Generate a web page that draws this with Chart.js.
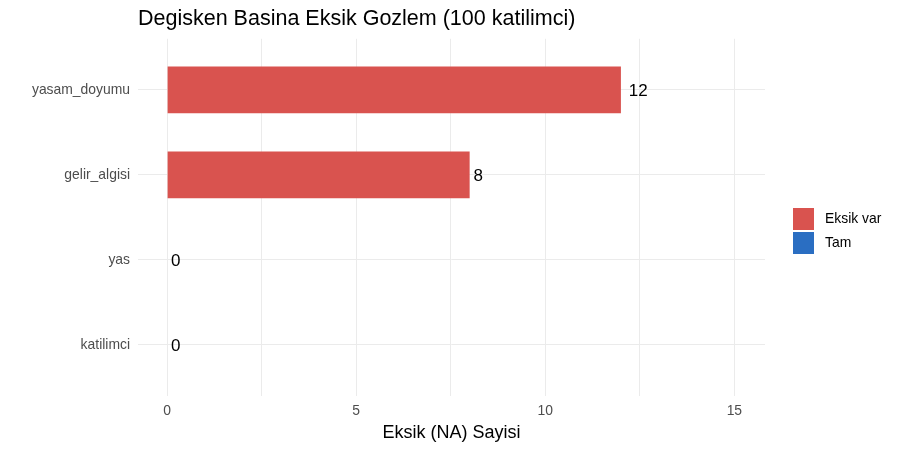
<!DOCTYPE html>
<html>
<head>
<meta charset="utf-8">
<script src="https://cdn.jsdelivr.net/npm/chart.js@4.4.1/dist/chart.umd.min.js"></script>
<style>
html, body { margin: 0; padding: 0; background: #fff; }
</style>
</head>
<body>
<canvas id="chart" width="900" height="450"></canvas>
<script>
// values, top row first
var categories = ['yasam_doyumu', 'gelir_algisi', 'yas', 'katilimci'];
var missingCounts = [12, 8, 0, 0];
var xTicks = [0, 2.5, 5, 7.5, 10, 12.5, 15];
var xLabelTicks = [0, 5, 10, 15];
var legendLabels = ['Eksik var', 'Tam'];
var legendColors = ['#D9534F', '#2A6EC2'];

var FONT = '"Liberation Sans", Arial, sans-serif';

// ggplot puts the first level at the bottom, so the top row gets the highest position
var points = missingCounts.map(function (n, i) {
    return { x: n, y: categories.length - i };
});
var barColors = missingCounts.map(function (n) {
    return n > 0 ? legendColors[0] : legendColors[1];
});

var valueLabels = {
    id: 'valueLabels',
    afterDatasetsDraw: function (chart) {
        var ctx = chart.ctx;
        var meta = chart.getDatasetMeta(0);
        ctx.save();
        ctx.font = '17px ' + FONT;
        ctx.fillStyle = '#000';
        ctx.textAlign = 'left';
        ctx.textBaseline = 'middle';
        meta.data.forEach(function (bar, i) {
            var txt = String(missingCounts[i]);
            var w = ctx.measureText(txt).width;
            ctx.fillText(txt, bar.x + 0.42 * w, bar.y + 1.5);
        });
        ctx.restore();
    }
};

var sideLegend = {
    id: 'sideLegend',
    afterDraw: function (chart) {
        var ctx = chart.ctx;
        var left = chart.chartArea.right + 28;
        var top = 208;
        ctx.save();
        ctx.font = '13.9px ' + FONT;
        ctx.textAlign = 'left';
        ctx.textBaseline = 'middle';
        for (var i = 0; i < legendLabels.length; i++) {
            var y = top + i * 24;
            ctx.fillStyle = legendColors[i];
            ctx.fillRect(left, y, 21, 22);
            ctx.fillStyle = '#000';
            ctx.fillText(legendLabels[i], left + 32, y + 11.5);
        }
        ctx.restore();
    }
};

var ctx = document.getElementById('chart').getContext('2d');
var myChart = new Chart(ctx, {
    type: 'bar',
    data: {
        datasets: [{
            label: 'Eksik',
            data: points,
            backgroundColor: barColors,
            borderWidth: 0,
            categoryPercentage: 1,
            barPercentage: 0.55
        }]
    },
    options: {
        indexAxis: 'y',
        responsive: false,
        animation: false,
        layout: { padding: { left: 0, right: 135, top: 0, bottom: 0 } },
        plugins: {
            legend: { display: false },
            tooltip: { enabled: false },
            title: {
                display: true,
                text: 'Degisken Basina Eksik Gozlem (100 katilimci)',
                align: 'start',
                fullSize: false,
                color: '#000',
                font: { family: FONT, size: 21.5, weight: 'normal' },
                padding: { top: 6, bottom: 7 }
            }
        },
        scales: {
            x: {
                type: 'linear',
                position: 'bottom',
                min: -0.77,
                max: 15.81,
                afterBuildTicks: function (scale) {
                    scale.ticks = xTicks.map(function (v) { return { value: v }; });
                },
                afterFit: function (scale) { scale.height = 54; },
                ticks: {
                    autoSkip: false,
                    maxRotation: 0,
                    padding: 7,
                    color: '#4D4D4D',
                    font: { family: FONT, size: 13.9 },
                    callback: function (v) {
                        return xLabelTicks.indexOf(v) >= 0 ? String(v) : '';
                    }
                },
                grid: { color: '#EBEBEB', lineWidth: 1, drawTicks: false },
                border: { display: false },
                title: {
                    display: true,
                    text: 'Eksik (NA) Sayisi',
                    color: '#000',
                    font: { family: FONT, size: 18 },
                    padding: { top: 0, bottom: 6 }
                }
            },
            y: {
                type: 'linear',
                offset: false,
                min: 0.4,
                max: 4.6,
                afterBuildTicks: function (scale) {
                    scale.ticks = categories.map(function (c, i) {
                        return { value: categories.length - i };
                    });
                },
                afterFit: function (scale) { scale.width = 138; },
                ticks: {
                    autoSkip: false,
                    padding: 8,
                    color: '#4D4D4D',
                    font: { family: FONT, size: 13.9 },
                    callback: function (v) {
                        return categories[categories.length - v];
                    }
                },
                grid: { color: '#EBEBEB', lineWidth: 1, drawTicks: false, offset: false },
                border: { display: false }
            }
        }
    },
    plugins: [valueLabels, sideLegend]
});
</script>
</body>
</html>
